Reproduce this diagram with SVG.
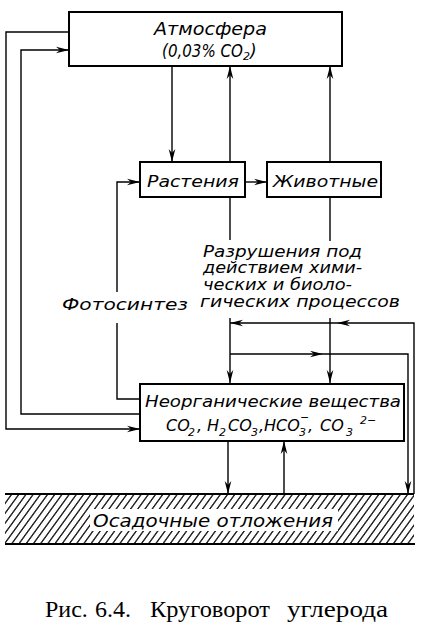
<svg xmlns="http://www.w3.org/2000/svg" width="423" height="633" viewBox="0 0 423 633">
<style>
.box{fill:#fff;stroke:#000;stroke-width:2}
.ln{fill:none;stroke:#000;stroke-width:1.4}
.ar{fill:none;stroke:#000;stroke-width:1.4;marker-end:url(#ah)}
.t{font-family:"DejaVu Sans","Liberation Sans",sans-serif;font-style:italic;fill:#000}
.cap{font-family:"Liberation Serif","DejaVu Serif",serif;fill:#000;font-size:24px}
</style>
<defs>
<marker id="ah" viewBox="-13 -4 14 8" refX="0" refY="0" markerWidth="14" markerHeight="8" markerUnits="userSpaceOnUse" orient="auto">
<path d="M0,0 L-13,-3.3 L-9,0 L-13,3.3 Z" fill="#000"/>
</marker>
<pattern id="hatch" patternUnits="userSpaceOnUse" width="7.2" height="60" patternTransform="skewX(-36)">
<line x1="3.6" y1="-5" x2="3.6" y2="65" stroke="#000" stroke-width="1.5"/>
</pattern>
</defs>

<g id="connectors">
<path class="ar" d="M69,32 H6 V429 H140"/>
<path class="ar" d="M140,414 H21 V50 H69"/>
<path class="ln" d="M140,399 H117 V323"/>
<path class="ar" d="M117,292 V182 H140"/>
<path class="ar" d="M172,66 V162"/>
<path class="ar" d="M230,162 V66"/>
<path class="ar" d="M330,162 V66"/>
<path class="ar" d="M245,182 H267"/>
<path class="ln" d="M230,197 V240"/>
<path class="ln" d="M330,197 V241"/>
<path class="ar" d="M230,318 V383"/>
<path class="ar" d="M330,318 V383"/>
<path class="ar" d="M414,494 V323 H337"/>
<path class="ar" d="M337,323 H230"/>
<path class="ar" d="M230,354 H323"/>
<path class="ar" d="M323,354 H408 V494"/>
<path class="ar" d="M228,441 V494"/>
<path class="ar" d="M284,494 V441"/>
</g>

<g id="atmosphere">
<rect class="box" x="69" y="12" width="273" height="54"/>
<text class="t" x="154" y="35" font-size="17" textLength="113" lengthAdjust="spacingAndGlyphs">Атмосфера</text>
<text class="t" font-size="17"><tspan x="162" y="57" textLength="81" lengthAdjust="spacingAndGlyphs">(0,03% CO</tspan><tspan x="243" y="60" font-size="11">2</tspan><tspan x="250" y="57">)</tspan></text>
</g>

<g id="plants">
<rect class="box" x="140" y="162" width="105" height="35"/>
<text class="t" x="147" y="187" font-size="16" textLength="92" lengthAdjust="spacingAndGlyphs">Растения</text>
</g>

<g id="animals">
<rect class="box" x="267" y="162" width="114" height="35"/>
<text class="t" x="273" y="187" font-size="16" textLength="105" lengthAdjust="spacingAndGlyphs">Животные</text>
</g>

<g id="decay-label">
<text class="t" x="203" y="257" font-size="16" textLength="159" lengthAdjust="spacingAndGlyphs">Разрушения под</text>
<text class="t" x="203" y="273" font-size="16" textLength="159" lengthAdjust="spacingAndGlyphs">действием хими-</text>
<text class="t" x="203" y="290" font-size="16" textLength="149" lengthAdjust="spacingAndGlyphs">ческих и биоло-</text>
<text class="t" x="200" y="307" font-size="16" textLength="200" lengthAdjust="spacingAndGlyphs">гических процессов</text>
</g>

<g id="photosynthesis-label">
<text class="t" x="62" y="310" font-size="16" textLength="126" lengthAdjust="spacingAndGlyphs">Фотосинтез</text>
</g>

<g id="inorganic">
<rect class="box" x="140" y="384" width="264" height="57"/>
<text class="t" x="145" y="407" font-size="16" textLength="256" lengthAdjust="spacingAndGlyphs">Неорганические вещества</text>
<text class="t" font-size="16">
<tspan x="166" y="431">CO</tspan><tspan x="188" y="436" font-size="11">2</tspan><tspan x="197" y="431">,</tspan>
<tspan x="207" y="431">H</tspan><tspan x="219" y="436" font-size="11">2</tspan><tspan x="228" y="431">CO</tspan><tspan x="251" y="436" font-size="11">3</tspan><tspan x="259" y="431">,</tspan>
<tspan x="264" y="431">HCO</tspan><tspan x="299" y="436" font-size="11">3</tspan><tspan x="300" y="421" font-size="11">−</tspan><tspan x="308" y="431">,</tspan>
<tspan x="320" y="431">CO</tspan><tspan x="346" y="436" font-size="11">3</tspan><tspan x="360" y="424" font-size="11">2−</tspan>
</text>
</g>

<g id="sediments">
<rect x="5" y="494" width="409" height="50" fill="url(#hatch)"/>
<rect x="90" y="509" width="248" height="22" fill="#fff"/>
<line x1="5" y1="494" x2="414" y2="494" stroke="#000" stroke-width="2.2"/>
<line x1="5" y1="544" x2="415" y2="544" stroke="#000" stroke-width="2"/>
<text class="t" x="93" y="527" font-size="17" textLength="240" lengthAdjust="spacingAndGlyphs">Осадочные отложения</text>
</g>

<g id="caption">
<text class="cap" x="45" y="617">Рис.</text>
<text class="cap" x="95" y="617">6.4.</text>
<text class="cap" x="150" y="617" textLength="120" lengthAdjust="spacingAndGlyphs">Круговорот</text>
<text class="cap" x="287" y="617" textLength="101" lengthAdjust="spacingAndGlyphs">углерода</text>
</g>
</svg>
